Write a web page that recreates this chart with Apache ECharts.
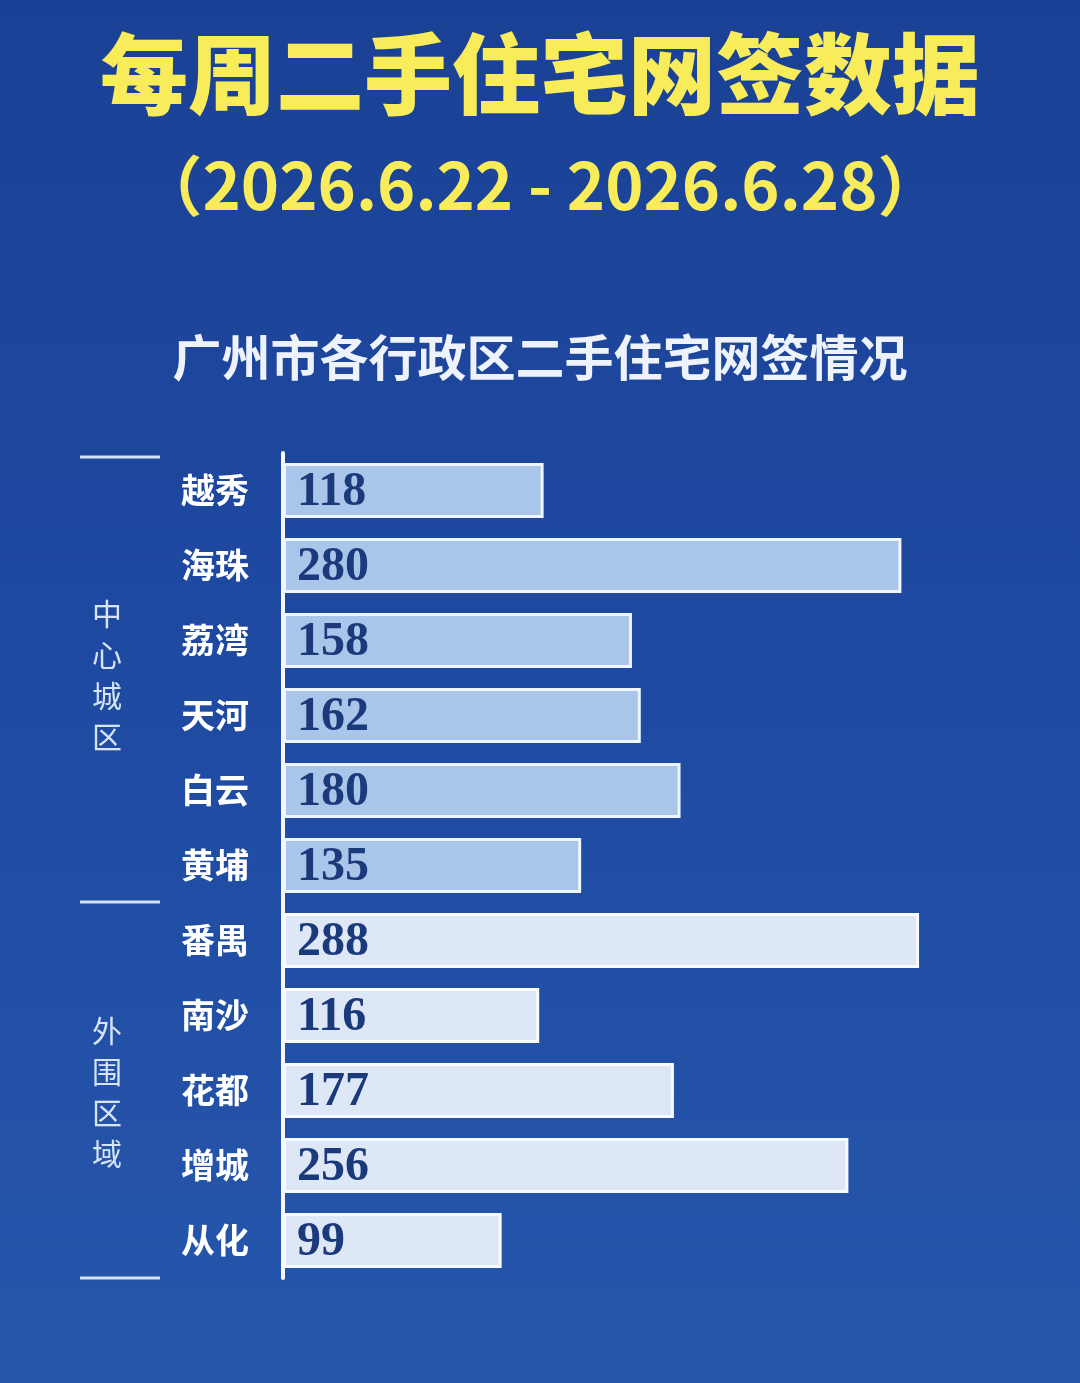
<!DOCTYPE html>
<html>
<head>
<meta charset="utf-8">
<title>每周二手住宅网签数据</title>
<script src="https://cdn.jsdelivr.net/npm/echarts@6/dist/echarts.min.js"></script>
<style>
  html, body { margin: 0; padding: 0; }
  #chart { width: 1080px; height: 1383px; }
</style>
</head>
<body>
<div id="chart"></div>
<script>
// 数据
const districts = ['越秀', '海珠', '荔湾', '天河', '白云', '黄埔', '番禺', '南沙', '花都', '增城', '从化'];
const signCounts = [118, 280, 158, 162, 180, 135, 288, 116, 177, 256, 99];
// 分组：中心城区 / 外围区域
const groups = ['中心', '中心', '中心', '中心', '中心', '中心', '外围', '外围', '外围', '外围', '外围'];
const groupNames = ['中心城区', '外围区域'];

const fontCN = '"Noto Sans CJK SC", "Noto Sans", sans-serif';

const chart = echarts.init(document.getElementById('chart'));

const barData = signCounts.map(function (v, i) {
    const inner = groups[i] === '中心';
    return {
        value: v,
        itemStyle: {
            color: inner ? '#a9c5e9' : '#dde7f6',
            borderColor: inner ? '#eef5fd' : '#f8fbff',
            borderWidth: 3
        }
    };
});

const option = {
    backgroundColor: {
        type: 'linear', x: 0, y: 0, x2: 0, y2: 1,
        colorStops: [
            { offset: 0, color: '#1a4195' },
            { offset: 0.5, color: '#1f4aa2' },
            { offset: 1, color: '#2657ab' }
        ]
    },
    grid: {
        left: 283,
        right: 24,
        top: 453,
        bottom: 105
    },
    xAxis: {
        type: 'value',
        min: 0,
        max: 350,
        show: false
    },
    yAxis: {
        type: 'category',
        inverse: true,
        data: districts,
        axisLine: { show: true, lineStyle: { color: '#f4f8fd', width: 4 } },
        axisTick: { show: false },
        axisLabel: {
            color: '#ffffff',
            fontSize: 34,
            fontWeight: 'bold',
            fontFamily: fontCN,
            margin: 34
        }
    },
    series: [{
        type: 'bar',
        data: barData,
        barWidth: 55,
        label: {
            show: true,
            position: 'insideLeft',
            distance: 14,
            color: '#1b3a7c',
            fontSize: 48,
            fontWeight: 'bold',
            fontFamily: '"Liberation Serif", "DejaVu Serif", serif',
            offset: [0, 2]
        }
    }],
    graphic: [
        {
            type: 'text',
            style: {
                x: 540, y: 74,
                text: '每周二手住宅网签数据',
                textAlign: 'center', textVerticalAlign: 'middle',
                fill: '#f8ec5a',
                font: '900 88px ' + fontCN,
                shadowColor: 'rgba(10,20,60,0.75)',
                shadowOffsetX: 3, shadowOffsetY: 4, shadowBlur: 3
            }
        },
        {
            type: 'text',
            style: {
                x: 540, y: 185,
                text: '（2026.6.22 - 2026.6.28）',
                textAlign: 'center', textVerticalAlign: 'middle',
                fill: '#f8ec5a',
                font: 'bold 65px ' + fontCN,
                shadowColor: 'rgba(10,20,60,0.75)',
                shadowOffsetX: 3, shadowOffsetY: 4, shadowBlur: 3
            }
        },
        {
            type: 'text',
            style: {
                x: 540, y: 357,
                text: '广州市各行政区二手住宅网签情况',
                textAlign: 'center', textVerticalAlign: 'middle',
                fill: '#eef3fb',
                font: 'bold 49px ' + fontCN,
                shadowColor: 'rgba(40,40,60,0.5)',
                shadowOffsetX: 2, shadowOffsetY: 3, shadowBlur: 2
            }
        },
        // 分组分隔线
        { type: 'line', shape: { x1: 80, y1: 457, x2: 160, y2: 457 }, style: { stroke: '#d4e3f6', lineWidth: 3 } },
        { type: 'line', shape: { x1: 80, y1: 902, x2: 160, y2: 902 }, style: { stroke: '#d4e3f6', lineWidth: 3 } },
        { type: 'line', shape: { x1: 80, y1: 1278, x2: 160, y2: 1278 }, style: { stroke: '#d4e3f6', lineWidth: 3 } },
        // 分组名称（竖排）
        {
            type: 'text',
            style: {
                x: 107, y: 675,
                text: groupNames[0].split('').join('\n'),
                textAlign: 'center', textVerticalAlign: 'middle',
                fill: '#d6e4f6',
                font: '30px ' + fontCN,
                lineHeight: 41
            }
        },
        {
            type: 'text',
            style: {
                x: 107, y: 1092,
                text: groupNames[1].split('').join('\n'),
                textAlign: 'center', textVerticalAlign: 'middle',
                fill: '#d6e4f6',
                font: '30px ' + fontCN,
                lineHeight: 41
            }
        }
    ]
};

chart.setOption(option);
</script>
</body>
</html>
